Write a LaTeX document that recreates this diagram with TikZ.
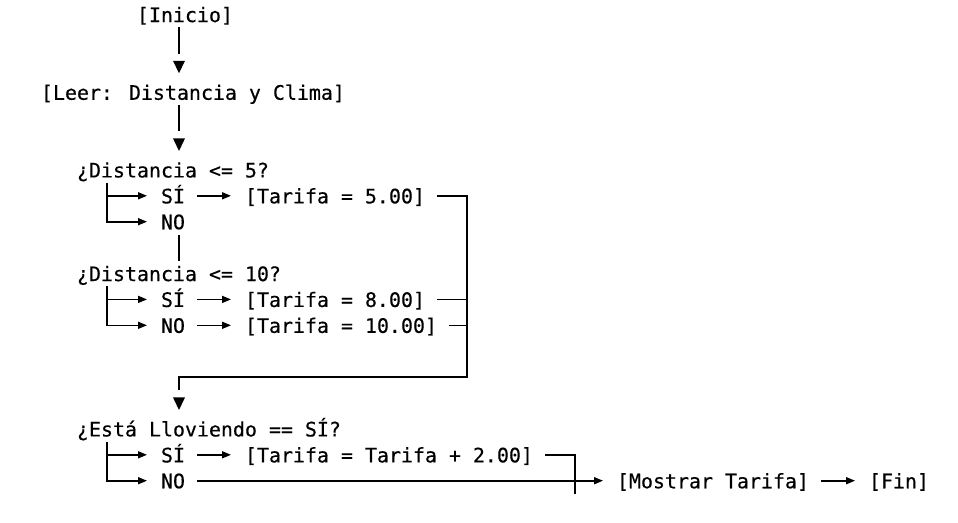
\documentclass[tikz,border=0pt]{standalone}
\usepackage{fontspec}
\newfontfamily\monof[FakeBold=0.4]{DejaVu Sans Mono}
\usetikzlibrary{arrows.meta}
\begin{document}
\begin{tikzpicture}[x=1pt,y=-1pt,
  txt/.style={anchor=west, inner sep=0pt, outer sep=0pt, text height=20.5pt, text depth=5.4pt,
    font=\monof\fontsize{19.93pt}{25.9pt}\selectfont},
  conn/.style={line width=1.6pt, black},
  harrow/.style={conn, -{Triangle[length=9pt,width=7pt]}, shorten >=14pt},
  vgap/.style={conn, shorten >=25.5pt},
  tipdown/.style={fill=black},
  gapstart/.style={shorten <=12pt}]
\useasboundingbox (0,0) rectangle (958,522);
% column reference coordinates
\coordinate (k8) at (107,0);
\coordinate (k14) at (179,0);
% text nodes
\node[txt] (inicio) at (137,14.5) {[Inicio]};
\node[txt] (leer) at (41,92.2) {[Leer: Distancia y Clima]};
\node[txt] (d1) at (77,169.9) {¿Distancia <= 5?};
\node[txt] (s1) at (161,195.8) {SÍ};
\node[txt] (n1) at (161,221.7) {NO};
\node[txt] (t1) at (245,195.8) {[Tarifa = 5.00]};
\node[txt] (d2) at (77,273.5) {¿Distancia <= 10?};
\node[txt] (s2) at (161,299.4) {SÍ};
\node[txt] (n2) at (161,325.3) {NO};
\node[txt] (t2) at (245,299.4) {[Tarifa = 8.00]};
\node[txt] (t3) at (245,325.3) {[Tarifa = 10.00]};
\node[txt] (d3) at (77,428.9) {¿Está Lloviendo == SÍ?};
\node[txt] (s3) at (161,454.8) {SÍ};
\node[txt] (n3) at (161,480.7) {NO};
\node[txt] (t4) at (245,454.8) {[Tarifa = Tarifa + 2.00]};
\node[txt] (mostrar) at (617,480.7) {[Mostrar Tarifa]};
\node[txt] (fin) at (869,480.7) {[Fin]};
% junction coordinates
\coordinate (j1) at (467,377.1);
\coordinate (j2) at (575,493.65);
% vertical connectors with detached down triangles
\draw[vgap] (inicio.south -| k14) -- (leer.north -| k14);
\fill[tipdown] (leer.north -| k14) ++(0,-6) -- ++(-6,-12.5) -- ++(12,0) -- cycle;
\draw[vgap] (leer.south -| k14) -- (d1.north -| k14);
\fill[tipdown] (d1.north -| k14) ++(0,-6) -- ++(-6,-12.5) -- ++(12,0) -- cycle;
% first decision
\draw[harrow] (d1.south -| k8) |- (s1.west);
\draw[harrow] (d1.south -| k8) |- (n1.west);
\draw[harrow,gapstart] (s1.east) -- (t1.west);
\draw[conn] (n1.south -| k14) -- (d2.north -| k14);
% second decision
\draw[harrow] (d2.south -| k8) |- (s2.west);
\draw[harrow] (d2.south -| k8) |- (n2.west);
\draw[harrow,gapstart] (s2.east) -- (t2.west);
\draw[harrow,gapstart] (n2.east) -- (t3.west);
% merge
\draw[vgap,gapstart] (t1.east) -| (j1) -| (d3.north -| k14);
\fill[tipdown] (d3.north -| k14) ++(0,-6) -- ++(-6,-12.5) -- ++(12,0) -- cycle;
\draw[conn,gapstart] (t2.east) -- (t2.east -| j1);
\draw[conn,gapstart] (t3.east) -- (t3.east -| j1);
% third decision
\draw[harrow] (d3.south -| k8) |- (s3.west);
\draw[harrow] (d3.south -| k8) |- (n3.west);
\draw[harrow,gapstart] (s3.east) -- (t4.west);
\draw[conn,gapstart] (t4.east) -| (j2);
\draw[harrow,gapstart] (n3.east) -- (mostrar.west);
\draw[harrow,gapstart] (mostrar.east) -- (fin.west);
\end{tikzpicture}
\end{document}
